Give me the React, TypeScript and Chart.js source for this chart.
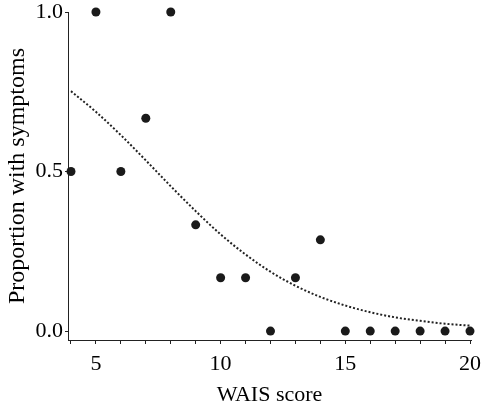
import React, { useEffect, useRef } from "react";
import { Chart, registerables } from "chart.js";

Chart.register(...registerables);

const waisScores = [4, 5, 6, 7, 8, 9, 10, 11, 12, 13, 14, 15, 16, 17, 18, 19, 20];
const proportionObserved = [0.5, 1.0, 0.5, 0.667, 1.0, 0.333, 0.167, 0.167, 0.0, 0.167, 0.286, 0.0, 0.0, 0.0, 0.0, 0.0, 0.0];
const fittedCurve = [0.752, 0.687, 0.614, 0.535, 0.454, 0.376, 0.303, 0.24, 0.186, 0.142, 0.107, 0.08, 0.059, 0.043, 0.032, 0.023, 0.017];
const xTickValues = [4, 5, 6, 7, 8, 9, 10, 11, 12, 13, 14, 15, 16, 17, 18, 19, 20];
const xLabelValues = [5, 10, 15, 20];
const yTickValues = [0, 0.5, 1.0];

const FONT = "'Liberation Serif', 'Times New Roman', serif";
const INK = "#222222";

export default function App() {
  const ref = useRef<HTMLCanvasElement | null>(null);

  useEffect(() => {
    if (!ref.current) return;
    const chart = new Chart(ref.current, {
      type: "scatter",
      data: {
        datasets: [
          {
            type: "line",
            label: "Fitted",
            data: waisScores.map((x, i) => ({ x, y: fittedCurve[i] })),
            borderColor: INK,
            borderWidth: 2,
            borderDash: [2, 2],
            pointRadius: 0,
            fill: false,
            cubicInterpolationMode: "monotone",
          },
          {
            type: "scatter",
            label: "Observed",
            data: waisScores.map((x, i) => ({ x, y: proportionObserved[i] })),
            backgroundColor: "#1a1a1a",
            borderColor: "#1a1a1a",
            pointRadius: 4.5,
            borderWidth: 0,
            clip: false,
          },
        ],
      },
      options: {
        responsive: false,
        animation: false,
        layout: { padding: { top: 12, right: 10, left: 0, bottom: 0 } },
        plugins: { legend: { display: false }, tooltip: { enabled: false } },
        scales: {
          x: {
            type: "linear",
            min: 3.88,
            max: 20.04,
            afterBuildTicks: (s: any) => {
              s.ticks = xTickValues.map((v) => ({ value: v }));
            },
            afterFit: (s: any) => {
              s.height = 68;
              s.paddingLeft = 0;
              s.paddingRight = 0;
            },
            ticks: {
              autoSkip: false,
              maxRotation: 0,
              padding: 7,
              color: "#000",
              font: { family: FONT, size: 22 },
              callback: (v: any) => (xLabelValues.includes(Number(v)) ? String(v) : ""),
            },
            grid: { drawOnChartArea: false, drawTicks: true, tickLength: 4, color: INK, lineWidth: 1 },
            border: { display: true, color: INK, width: 1 },
            title: {
              display: true,
              text: "WAIS score",
              color: "#000",
              font: { family: FONT, size: 22 },
              padding: { top: 0, bottom: 0 },
            },
          },
          y: {
            type: "linear",
            min: -0.028,
            max: 1.0,
            afterBuildTicks: (s: any) => {
              s.ticks = yTickValues.map((v) => ({ value: v }));
            },
            afterFit: (s: any) => {
              s.width = 68;
              s.paddingTop = 0;
              s.paddingBottom = 0;
            },
            ticks: {
              padding: 2,
              color: "#000",
              font: { family: FONT, size: 22 },
              callback: (v: any) => Number(v).toFixed(1),
            },
            grid: { drawOnChartArea: false, drawTicks: true, tickLength: 3, color: INK, lineWidth: 1 },
            border: { display: true, color: INK, width: 1 },
            title: {
              display: true,
              text: "Proportion with symptoms",
              color: "#000",
              font: { family: FONT, size: 24 },
              padding: { top: 3, bottom: 0 },
            },
          },
        },
      },
    });
    return () => chart.destroy();
  }, []);

  return (
    <div style={{ position: "absolute", left: 0, top: 0, width: 481, height: 408, background: "#fff" }}>
      <canvas ref={ref} width={481} height={408} />
    </div>
  );
}
